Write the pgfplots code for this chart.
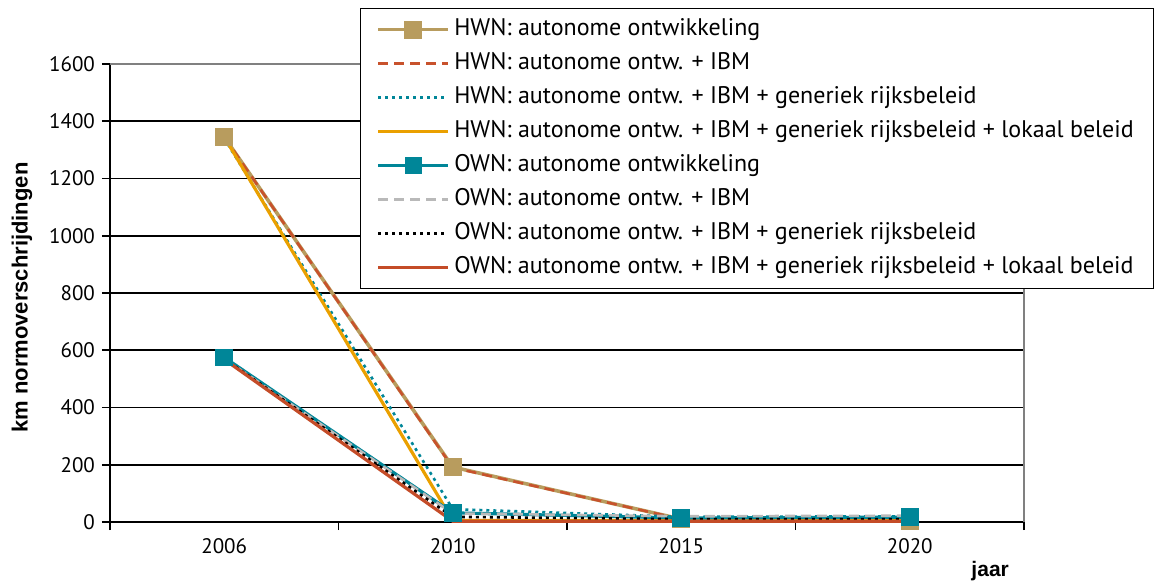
\documentclass[border=0pt]{standalone}
\usepackage{pgfplots}
\pgfplotsset{compat=1.18}
\usepackage{fontspec}
\setmainfont{PT Sans}
\newfontfamily\labelfont{Liberation Sans}
\definecolor{tanc}{RGB}{184,156,94}
\definecolor{rdash}{RGB}{200,82,44}
\definecolor{tealc}{RGB}{0,134,152}
\definecolor{orng}{RGB}{234,160,0}
\definecolor{gry}{RGB}{185,185,185}
\definecolor{rsol}{RGB}{196,76,40}
\definecolor{frame}{RGB}{128,128,128}
\begin{document}
\begin{tikzpicture}
\useasboundingbox (-55pt,-29pt) rectangle (525.5pt,261pt);
\begin{axis}[
  scale only axis, width=457pt, height=229pt,
  xmin=-0.5, xmax=3.5, ymin=0, ymax=1600,
  clip=false,
  axis x line=bottom, axis y line=left,
  axis line style={-, black, line width=1pt},
  xtick={-0.5,0.5,1.5,2.5,3.5}, xticklabels={,,,,},
  extra x ticks={0,1,2,3}, extra x tick labels={2006,2010,2015,2020},
  extra x tick style={major tick length=0pt},
  ytick={0,200,...,1600},
  tick align=outside, major tick length=4pt,
  tick style={black, line width=0.8pt},
  ymajorgrids, major grid style={black, line width=0.9pt},
  /pgf/number format/assume math mode=true,
  /pgf/number format/1000 sep={},
  ticklabel style={font=\fontsize{10.5}{12}\selectfont},
  xticklabel style={yshift=-4.5pt},
  ylabel={km normoverschrijdingen},
  ylabel style={at={(rel axis cs:-0.0963,0.49)}, anchor=center, font=\labelfont\bfseries\fontsize{11}{13}\selectfont},
  xlabel={jaar},
  xlabel style={at={(rel axis cs:0.963,0)}, anchor=north, yshift=-16pt, font=\labelfont\bfseries\fontsize{10.5}{12}\selectfont},
  legend cell align=left,
  legend style={at={(rel axis cs:0.2735,1.1223)}, anchor=north west,
    draw=black, line width=0.7pt, fill=white, inner xsep=8pt, inner ysep=3pt,
    font=\fontsize{12}{14}\selectfont,
    nodes={inner sep=2pt, text height=8.5pt, text depth=2.5pt},
    row sep=2pt},
  legend image code/.code={\draw[mark repeat=2, mark phase=2] plot coordinates {(0pt,0pt) (17.5pt,0pt) (35pt,0pt)};},
]
\addplot[tanc, line width=1.8pt, mark=square*, mark size=3.6pt, mark options={solid, draw=tanc, fill=tanc}]
  coordinates {(0,1345) (1,192) (2,10) (3,5)};
\addlegendentry{HWN: autonome ontwikkeling}
\addplot[rdash, line width=1.3pt, dash pattern=on 5pt off 3pt]
  coordinates {(0,1345) (1,190) (2,10) (3,5)};
\addlegendentry{HWN: autonome ontw. + IBM}
\addplot[tealc, line width=1.3pt, dash pattern=on 1.5pt off 2pt]
  coordinates {(0,1340) (1,45) (2,18) (3,20)};
\addlegendentry{HWN: autonome ontw. + IBM + generiek rijksbeleid}
\addplot[orng, line width=1.6pt]
  coordinates {(0,1345) (1,5) (2,5) (3,5)};
\addlegendentry{HWN: autonome ontw. + IBM + generiek rijksbeleid + lokaal beleid}
\addplot[tealc, line width=1.6pt, mark=square*, mark size=3.6pt, mark options={solid, draw=tealc, fill=tealc}]
  coordinates {(0,575) (1,32) (2,14) (3,17)};
\addlegendentry{OWN: autonome ontwikkeling}
\addplot[gry, line width=1.3pt, dash pattern=on 5pt off 3pt]
  coordinates {(0,570) (1,30) (2,20) (3,22)};
\addlegendentry{OWN: autonome ontw. + IBM}
\addplot[black, line width=1.3pt, dash pattern=on 1.5pt off 2pt]
  coordinates {(0,570) (1,18) (2,10) (3,10)};
\addlegendentry{OWN: autonome ontw. + IBM + generiek rijksbeleid}
\addplot[rsol, line width=1.6pt]
  coordinates {(0,568) (1,3) (2,3) (3,3)};
\addlegendentry{OWN: autonome ontw. + IBM + generiek rijksbeleid + lokaal beleid}
\draw[frame, line width=1pt] (rel axis cs:0,1) -- (rel axis cs:1,1) -- (rel axis cs:1,0);
\end{axis}
\end{tikzpicture}
\end{document}
